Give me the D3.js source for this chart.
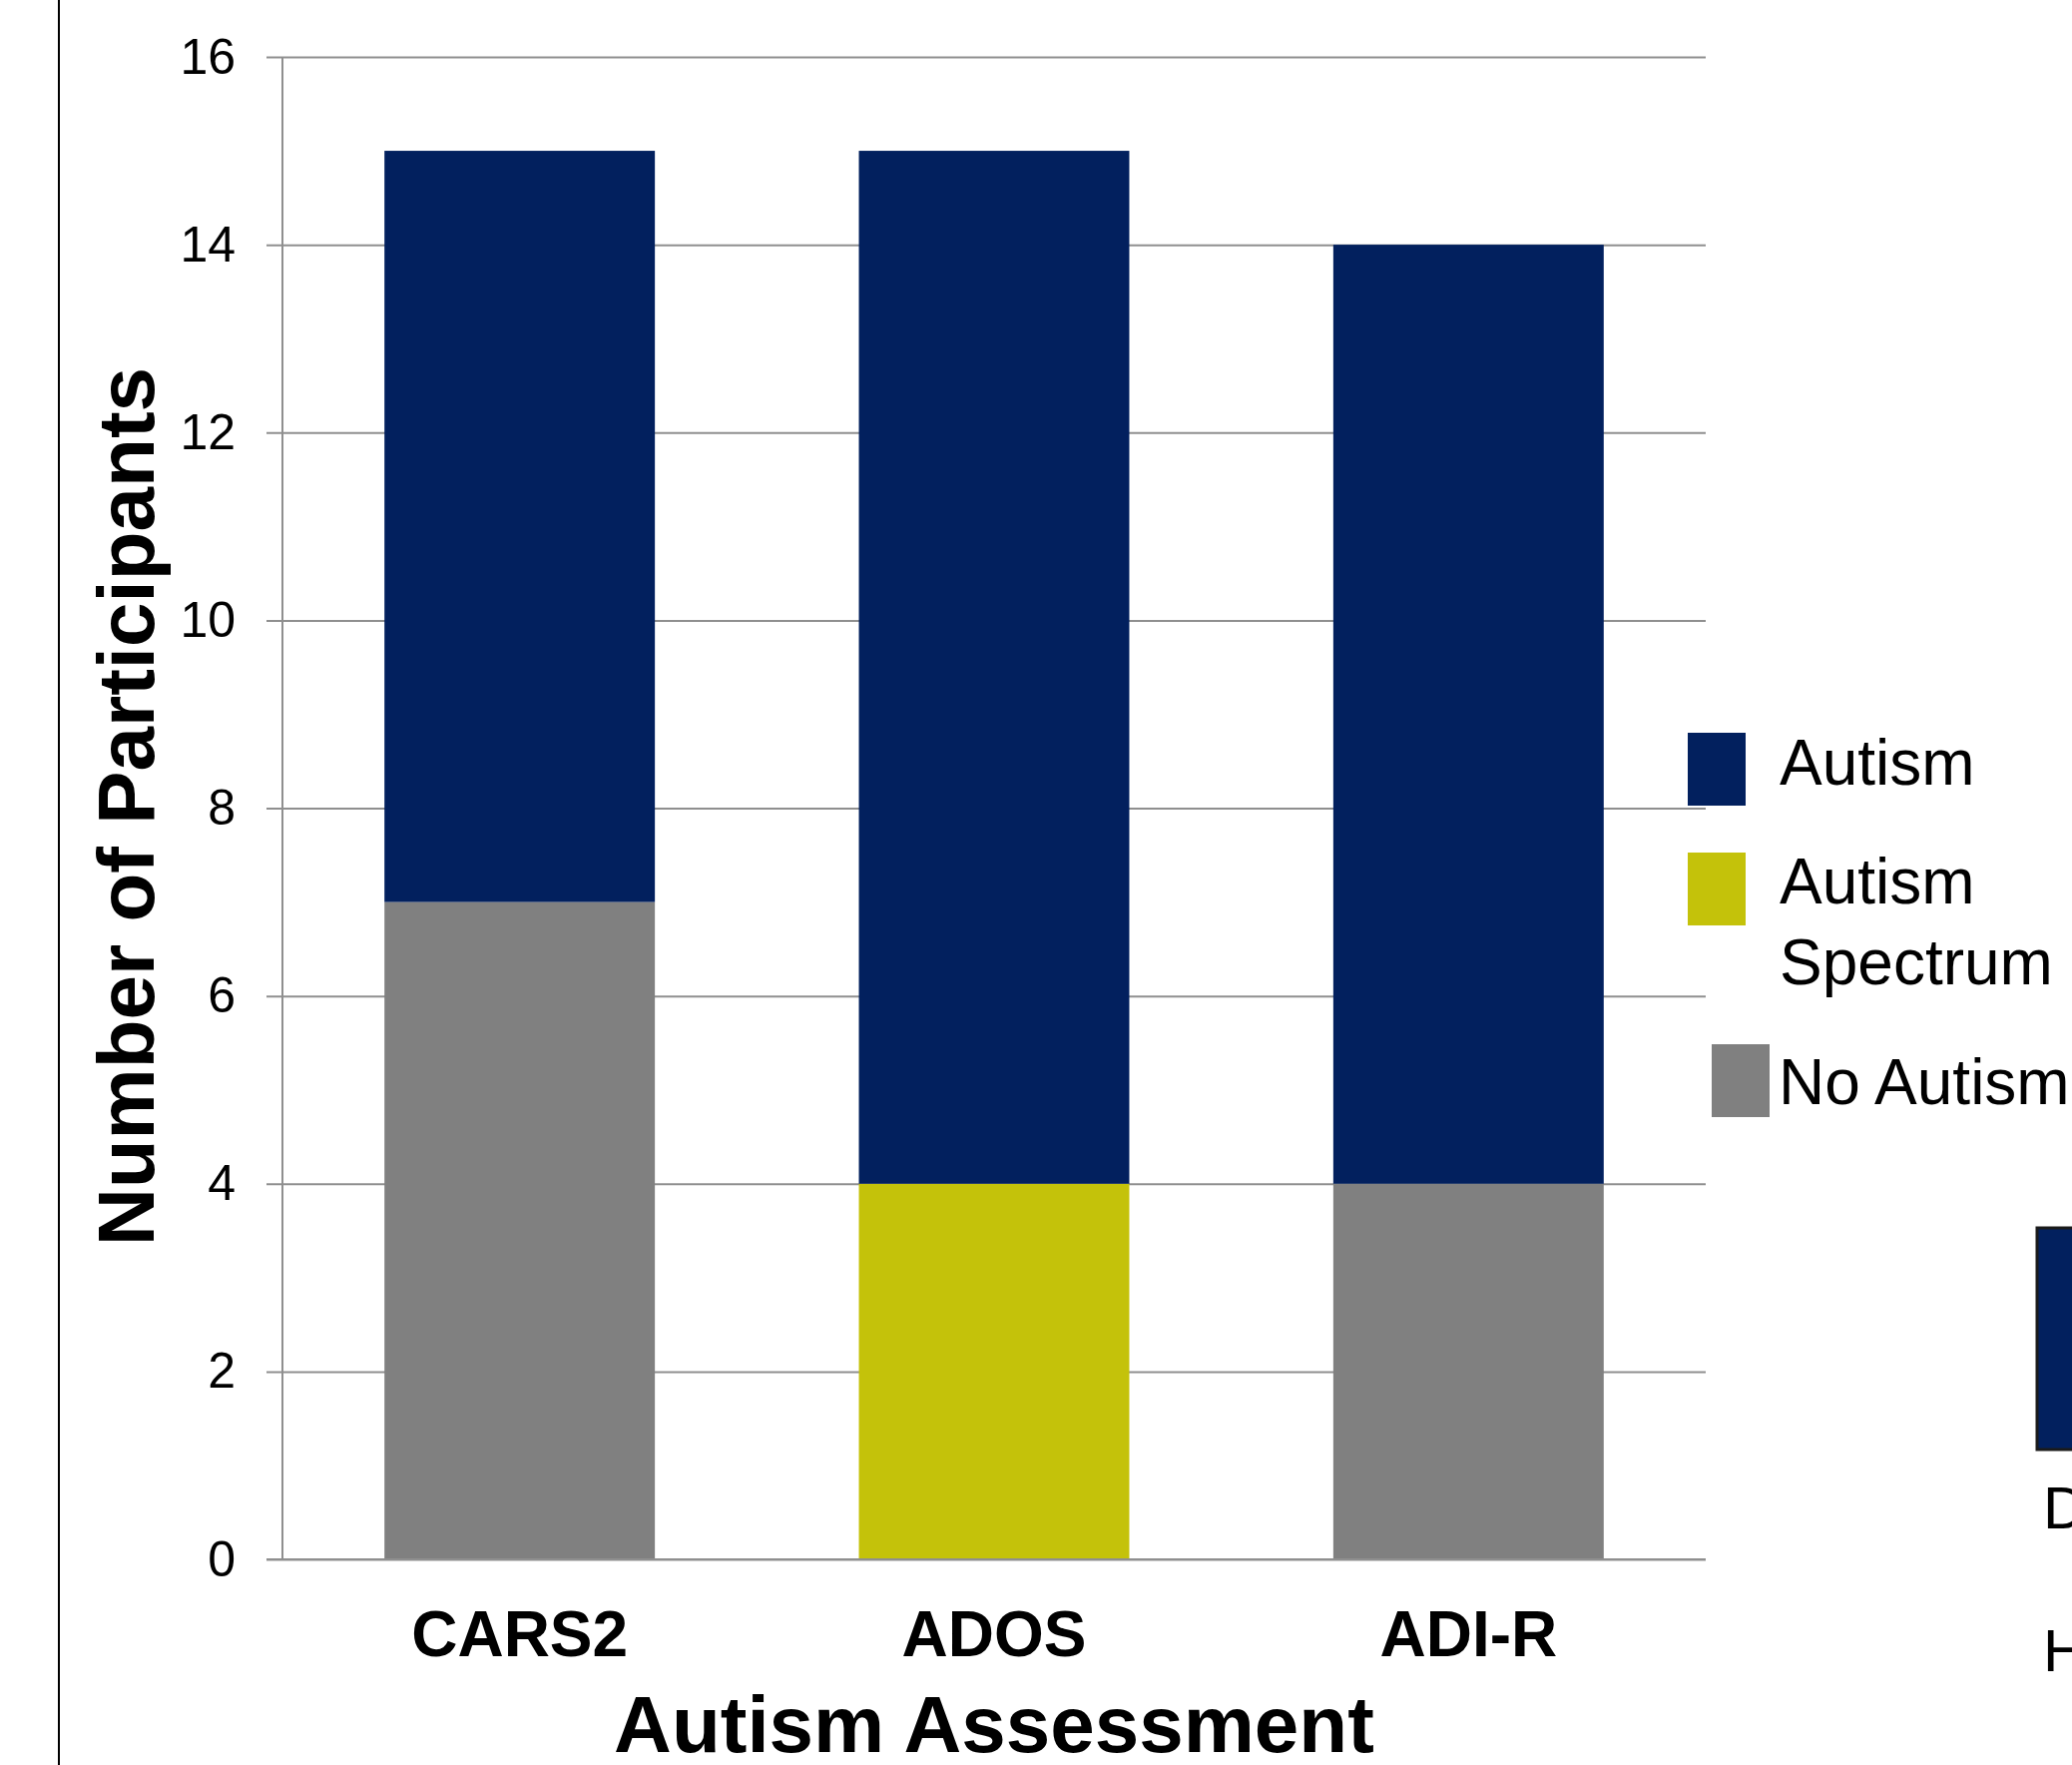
<!DOCTYPE html>
<html>
<head>
<meta charset="utf-8">
<script src="https://cdn.jsdelivr.net/npm/d3@7"></script>
<style>
  body { margin: 0; background: #fff; overflow: hidden; }
  text { font-family: "Liberation Sans", Arial, sans-serif; }
</style>
</head>
<body>
<svg id="chart"></svg>
<script>
var categories = ["CARS2", "ADOS", "ADI-R"];
var seriesNames = ["No Autism", "Autism Spectrum", "Autism"];
var noAutism = [7, 0, 4];
var autismSpectrum = [0, 4, 0];
var autism = [8, 11, 10];
var yTicks = [0, 2, 4, 6, 8, 10, 12, 14, 16];

var colors = {
	"Autism": "#02205e",
	"Autism Spectrum": "#c4c20a",
	"No Autism": "#808080"
};

var W = 2076, H = 1768;
var svg = d3.select('#chart')
	.attr('width', W)
	.attr('height', H);

// left border line of the slide
svg.append('line')
	.attr('x1', 59).attr('x2', 59)
	.attr('y1', 0).attr('y2', H)
	.attr('stroke', '#000')
	.attr('stroke-width', 2);

var plotLeft = 283, plotRight = 1709;

var x = d3.scaleBand()
	.domain(categories)
	.range([plotLeft, plotRight])
	.paddingInner(0.43)
	.paddingOuter(0.215);

var y = d3.scaleLinear()
	.domain([0, 16])
	.range([1562, 57]);

// gridlines + tick labels
var yAxis = d3.axisLeft(y)
	.tickValues(yTicks)
	.tickSize(plotRight - 267)
	.tickPadding(31)
	.tickFormat(d3.format('d'));

var gy = svg.append('g')
	.attr('transform', 'translate(' + plotRight + ',0)')
	.call(yAxis);
gy.select('.domain').remove();
gy.selectAll('.tick line')
	.attr('stroke', '#8f8f8f')
	.attr('stroke-width', 2);
gy.selectAll('.tick text')
	.attr('font-size', 50)
	.attr('fill', '#000')
	.attr('font-family', '"Liberation Sans", Arial, sans-serif');

// vertical axis line
svg.append('line')
	.attr('x1', plotLeft).attr('x2', plotLeft)
	.attr('y1', y(16)).attr('y2', y(0))
	.attr('stroke', '#8f8f8f')
	.attr('stroke-width', 2);

// stacked bars
var table = categories.map(function(c, i) {
	return {
		cat: c,
		"No Autism": noAutism[i],
		"Autism Spectrum": autismSpectrum[i],
		"Autism": autism[i]
	};
});

var stack = d3.stack().keys(seriesNames);
var layers = stack(table);

svg.selectAll('g.layer')
	.data(layers)
	.enter().append('g')
	.attr('class', 'layer')
	.attr('fill', function(d) { return colors[d.key]; })
	.selectAll('rect')
	.data(function(d) { return d.filter(function(s) { return s[1] > s[0]; }); })
	.enter().append('rect')
	.attr('x', function(d) { return x(d.data.cat); })
	.attr('width', x.bandwidth())
	.attr('y', function(d) { return y(d[1]); })
	.attr('height', function(d) { return y(d[0]) - y(d[1]); });

// baseline over bars
svg.append('line')
	.attr('x1', 267).attr('x2', plotRight)
	.attr('y1', y(0)).attr('y2', y(0))
	.attr('stroke', '#8f8f8f')
	.attr('stroke-width', 2);

// category labels
svg.selectAll('text.cat')
	.data(categories)
	.enter().append('text')
	.attr('class', 'cat')
	.attr('x', function(d) { return x(d) + x.bandwidth() / 2; })
	.attr('y', 1659)
	.attr('text-anchor', 'middle')
	.attr('font-size', 64)
	.attr('font-weight', 'bold')
	.text(function(d) { return d; });

// axis titles
svg.append('text')
	.attr('x', 996)
	.attr('y', 1755)
	.attr('text-anchor', 'middle')
	.attr('font-size', 80)
	.attr('font-weight', 'bold')
	.text('Autism Assessment');

svg.append('text')
	.attr('transform', 'translate(154,808) rotate(-90)')
	.attr('text-anchor', 'middle')
	.attr('font-size', 80)
	.attr('font-weight', 'bold')
	.text('Number of Participants');

// legend
var legendItems = [
	{ key: "Autism", lines: ["Autism"], sx: 1691, sy: 734, tx: 1783, ty: 786 },
	{ key: "Autism Spectrum", lines: ["Autism", "Spectrum"], sx: 1691, sy: 854, tx: 1783, ty: 905 },
	{ key: "No Autism", lines: ["No Autism"], sx: 1715, sy: 1046, tx: 1782, ty: 1106 }
];

var lg = svg.selectAll('g.legend')
	.data(legendItems)
	.enter().append('g')
	.attr('class', 'legend');

lg.append('rect')
	.attr('x', function(d) { return d.sx; })
	.attr('y', function(d) { return d.sy; })
	.attr('width', 58)
	.attr('height', 73)
	.attr('fill', function(d) { return colors[d.key]; });

lg.append('text')
	.attr('font-size', 64)
	.attr('y', function(d) { return d.ty; })
	.selectAll('tspan')
	.data(function(d) { return d.lines.map(function(l, i) { return { t: l, x: d.tx, i: i }; }); })
	.enter().append('tspan')
	.attr('x', function(d) { return d.x; })
	.attr('dy', function(d) { return d.i === 0 ? 0 : 81; })
	.text(function(d) { return d.t; });

// clipped neighbouring element at bottom right
svg.append('rect')
	.attr('x', 2041).attr('y', 1230)
	.attr('width', 80).attr('height', 222)
	.attr('fill', '#02205e')
	.attr('stroke', '#1a1a1a')
	.attr('stroke-width', 3);

svg.append('text')
	.attr('x', 2047).attr('y', 1531)
	.attr('font-size', 60)
	.text('D');

svg.append('text')
	.attr('x', 2047).attr('y', 1674)
	.attr('font-size', 60)
	.text('H');
</script>
</body>
</html>
